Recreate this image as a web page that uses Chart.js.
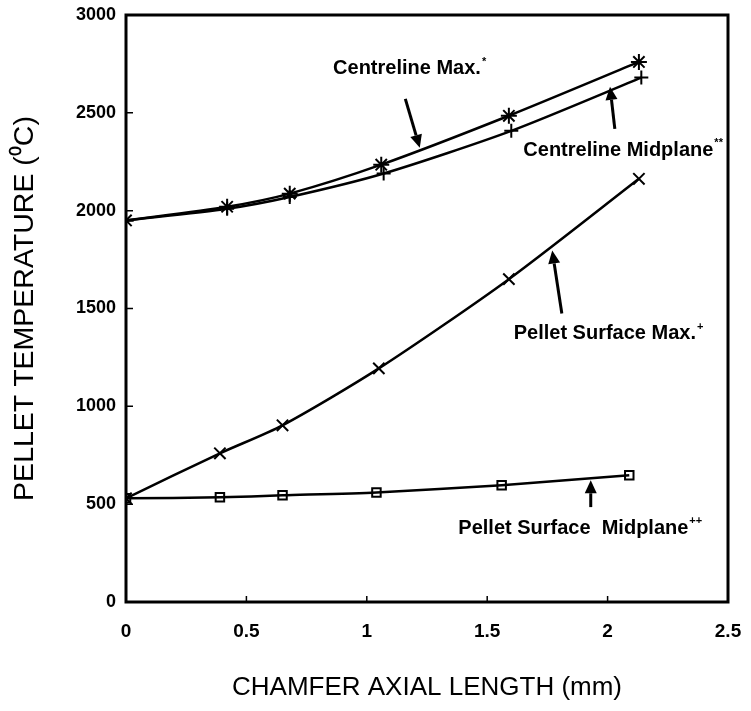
<!DOCTYPE html>
<html>
<head>
<meta charset="utf-8">
<script src="https://cdn.jsdelivr.net/npm/chart.js@4.4.1/dist/chart.umd.min.js"></script>
<style>
  html, body { margin: 0; padding: 0; background: #fff; }
</style>
</head>
<body>
<canvas id="js-chart" width="751" height="711"></canvas>
<script>
  /* ━━━━  DATA  ━━━━ */
  const X_TICKS = [0, 0.5, 1, 1.5, 2, 2.5];
  const Y_TICKS = [0, 500, 1000, 1500, 2000, 2500, 3000];

  // Centreline Max. (asterisks)
  const clMaxX = [0, 0.42, 0.68, 1.06, 1.59, 2.13];
  const clMaxY = [1950, 2020, 2087, 2235, 2485, 2760];
  // Centreline Midplane (plus)
  const clMidX = [0, 0.42, 0.68, 1.07, 1.60, 2.14];
  const clMidY = [1950, 2010, 2070, 2190, 2408, 2680];
  // Pellet Surface Max. (x)
  const psMaxX = [0, 0.39, 0.65, 1.05, 1.59, 2.13];
  const psMaxY = [530, 760, 903, 1194, 1650, 2163];
  // Pellet Surface Midplane (squares)
  const psMidX = [0, 0.39, 0.65, 1.04, 1.56, 2.09];
  const psMidY = [530, 535, 545, 560, 597, 648];

  /* labels + arrows, placed in data units */
  const NOTES = [
    { text: 'Centreline Max.',          sup: '*',  x: 0.86, y: 2725, from: [1.16, 2571], to: [1.22, 2321] },
    { text: 'Centreline Midplane',      sup: '**', x: 1.65, y: 2310, from: [2.03, 2418], to: [2.01, 2633] },
    { text: 'Pellet Surface Max.',      sup: '+',  x: 1.61, y: 1372, from: [1.81, 1474], to: [1.77, 1796] },
    { text: 'Pellet Surface  Midplane', sup: '++', x: 1.38, y: 378,  from: [1.93, 485],  to: [1.93, 622] }
  ];

  const FONT = "'Liberation Sans', Arial, Helvetica, sans-serif";
  const pts = (xs, ys) => xs.map((x, i) => ({ x, y: ys[i] }));

  function series(label, xs, ys, style, radius) {
    return {
      label,
      data: pts(xs, ys),
      showLine: true,
      borderColor: '#000',
      backgroundColor: 'rgba(0,0,0,0)',
      borderWidth: 2.5,
      tension: 0.25,
      pointStyle: style,
      pointRadius: radius,
      pointBorderColor: '#000',
      pointBorderWidth: 2,
      pointBackgroundColor: 'rgba(0,0,0,0)'
    };
  }

  /* ━━━━  FRAME / TICKS / NOTES  ━━━━ */
  const decor = {
    id: 'decor',
    afterDraw(chart) {
      const { ctx, chartArea: a, scales: { x, y } } = chart;
      ctx.save();
      ctx.strokeStyle = '#000';
      ctx.lineWidth = 3;
      ctx.strokeRect(a.left, a.top, a.right - a.left, a.bottom - a.top);

      // small inward ticks
      ctx.lineWidth = 1.5;
      ctx.beginPath();
      X_TICKS.slice(1, -1).forEach(v => {
        const px = x.getPixelForValue(v);
        ctx.moveTo(px, a.bottom); ctx.lineTo(px, a.bottom - 6);
      });
      Y_TICKS.slice(1, -1).forEach(v => {
        const py = y.getPixelForValue(v);
        ctx.moveTo(a.left, py); ctx.lineTo(a.left + 7, py);
      });
      ctx.stroke();

      // annotations
      ctx.fillStyle = '#000';
      ctx.textBaseline = 'middle';
      ctx.textAlign = 'left';
      NOTES.forEach(n => {
        const tx = x.getPixelForValue(n.x), ty = y.getPixelForValue(n.y);
        ctx.font = 'bold 20px ' + FONT;
        ctx.fillText(n.text, tx, ty);
        const w = ctx.measureText(n.text).width;
        ctx.font = 'bold 11px ' + FONT;
        ctx.fillText(n.sup, tx + w + 1, ty - 7);

        const x1 = x.getPixelForValue(n.from[0]), y1 = y.getPixelForValue(n.from[1]);
        const x2 = x.getPixelForValue(n.to[0]),   y2 = y.getPixelForValue(n.to[1]);
        const ang = Math.atan2(y2 - y1, x2 - x1);
        const hl = 13, hw = 6;
        const bx = x2 - hl * Math.cos(ang), by = y2 - hl * Math.sin(ang);
        ctx.lineWidth = 3;
        ctx.beginPath();
        ctx.moveTo(x1, y1); ctx.lineTo(bx, by);
        ctx.stroke();
        ctx.beginPath();
        ctx.moveTo(x2, y2);
        ctx.lineTo(bx + hw * Math.sin(ang), by - hw * Math.cos(ang));
        ctx.lineTo(bx - hw * Math.sin(ang), by + hw * Math.cos(ang));
        ctx.closePath();
        ctx.fill();
      });
      ctx.restore();
    }
  };

  /* ━━━━  CHART  ━━━━ */
  new Chart(document.getElementById('js-chart').getContext('2d'), {
    type: 'scatter',
    data: {
      datasets: [
        series('Centreline Max.*',        clMaxX, clMaxY, 'star',     8),
        series('Centreline Midplane**',   clMidX, clMidY, 'cross',    7),
        series('Pellet Surface Max.+',    psMaxX, psMaxY, 'crossRot', 8),
        series('Pellet Surface Midplane++', psMidX, psMidY, 'rect',   6)
      ]
    },
    options: {
      responsive: false,
      animation: false,
      layout: { padding: { left: 0, top: 15, right: 23, bottom: 0 } },
      plugins: { legend: { display: false }, tooltip: { enabled: false } },
      scales: {
        x: {
          type: 'linear',
          min: 0, max: 2.5,
          afterFit: s => { s.height = 109; s.paddingLeft = 0; s.paddingRight = 0; },
          afterBuildTicks: s => { s.ticks = X_TICKS.map(v => ({ value: v })); },
          grid: { display: false, drawTicks: false },
          border: { display: false },
          ticks: {
            color: '#000', padding: 18, maxRotation: 0,
            font: { family: FONT, size: 19, weight: 'bold' },
            callback: v => String(v)
          },
          title: {
            display: true, text: 'CHAMFER AXIAL LENGTH (mm)', color: '#000',
            font: { family: FONT, size: 26 }, padding: { top: 0, bottom: 8 }
          }
        },
        y: {
          type: 'linear',
          min: 0, max: 3000,
          afterFit: s => { s.width = 126; s.paddingTop = 0; s.paddingBottom = 0; },
          afterBuildTicks: s => { s.ticks = Y_TICKS.map(v => ({ value: v })); },
          grid: { display: false, drawTicks: false },
          border: { display: false },
          ticks: {
            color: '#000', padding: 10,
            font: { family: FONT, size: 18, weight: 'bold' },
            callback: v => String(v)
          },
          title: {
            display: true, text: 'PELLET TEMPERATURE (\u2070C)', color: '#000',
            font: { family: FONT, size: 28.5 }, padding: { top: 8, bottom: 0 }
          }
        }
      }
    },
    plugins: [decor]
  });
</script>
</body>
</html>
